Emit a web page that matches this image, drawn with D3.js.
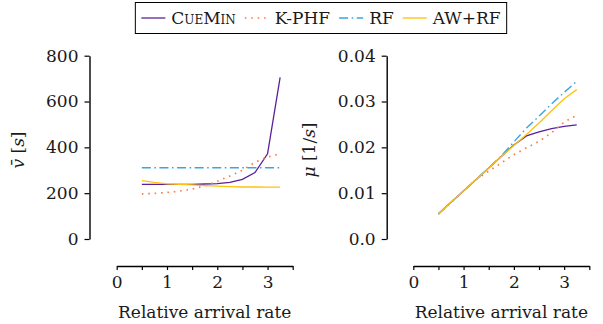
<!DOCTYPE html>
<html>
<head>
<meta charset="utf-8">
<script src="https://cdn.jsdelivr.net/npm/d3@7"></script>
<style>
  html, body { margin: 0; padding: 0; background: #fff; }
</style>
</head>
<body>
<div id="chart"></div>
<script>
// arrival rates (relative) shared by both panels
const rates = [0.5, 0.75, 1.0, 1.25, 1.5, 1.75, 2.0, 2.25, 2.5, 2.75, 3.0, 3.25];

// left panel: mean waiting time v-bar [s]
const waitCueMin = [238, 238, 238, 238, 238, 240, 242, 247, 260, 290, 372, 705];
const waitKPHF   = [197, 199, 203, 209, 218, 232, 252, 275, 300, 335, 358, 372];
const waitRF     = [311, 311, 311, 311, 311, 311, 311, 311, 311, 311, 311, 311];
const waitAWRF   = [255, 247, 241, 238, 236, 233, 231, 229, 227, 227, 226, 226];

// right panel: throughput mu [1/s]
const muCueMin = [0.0055, 0.0080, 0.0105, 0.0130, 0.0155, 0.0180, 0.0205, 0.0225, 0.0234, 0.0241, 0.0246, 0.0249];
const muKPHF   = [0.0055, 0.0080, 0.0105, 0.0130, 0.0148, 0.0166, 0.0184, 0.0199, 0.0213, 0.0232, 0.0255, 0.0270];
const muRF     = [0.0054, 0.0080, 0.0105, 0.0130, 0.0155, 0.0181, 0.0212, 0.0242, 0.0268, 0.0295, 0.0320, 0.0344];
const muAWRF   = [0.0055, 0.0080, 0.0105, 0.0130, 0.0155, 0.0180, 0.0204, 0.0228, 0.0253, 0.0280, 0.0306, 0.0326];

const seriesNames = ['CueMin', 'K-PHF', 'RF', 'AW+RF'];

// tick values / labels
const xTicks = [0, 0.5, 1, 1.5, 2, 2.5, 3, 3.5];
const waitTicks = [0, 200, 400, 600, 800];
const muTicks = [0, 0.01, 0.02, 0.03, 0.04];
const muTickLabels = ['0.0', '0.01', '0.02', '0.03', '0.04'];

// styling per series
const styles = {
  'CueMin': { color: '#5b1f9b', dash: null, width: 1.3 },
  'K-PHF':  { color: '#ff7a45', dash: '1.6,4.8', width: 1.7 },
  'RF':     { color: '#3aa6e0', dash: '9,3.5,1.6,3.5', width: 1.4 },
  'AW+RF':  { color: '#ffc20a', dash: null, width: 1.3 }
};

const FONT = '"DejaVu Serif", serif';
const fontSize = 17;

const W = 603, H = 324;
const svg = d3.select('#chart').append('svg')
  .attr('width', W).attr('height', H)
  .style('font-family', FONT);

function styleText(sel) {
  sel.attr('font-family', null)
    .style('font-family', FONT)
    .attr('font-size', null)
    .style('font-size', fontSize + 'px')
    .attr('fill', '#1a1a1a');
}

function drawPanel(cfg) {
  const x = d3.scaleLinear().domain([0, 3.5]).range([cfg.x0, cfg.x0 + 176]);
  const y = d3.scaleLinear().domain(cfg.yDomain).range([239, 55.7]);

  // y axis
  const yAxis = d3.axisLeft(y)
    .tickValues(cfg.yTicks)
    .tickFormat((d, i) => cfg.yLabels[i])
    .tickSizeInner(5).tickSizeOuter(0).tickPadding(6);
  const yg = svg.append('g')
    .attr('transform', `translate(${cfg.yAxisX},0)`)
    .call(yAxis)
    .attr('font-family', null).attr('font-size', null);
  yg.select('.domain').attr('stroke', '#000').attr('stroke-width', 1.4);
  yg.selectAll('.tick line').attr('stroke', '#000').attr('stroke-width', 1.2);
  styleText(yg.selectAll('.tick text'));

  // x axis, offset below the plot
  const xAxis = d3.axisBottom(x)
    .tickValues(xTicks)
    .tickFormat(d => Number.isInteger(d) && d < 3.5 ? d3.format('d')(d) : '')
    .tickSizeInner(4).tickSizeOuter(0).tickPadding(6);
  const xg = svg.append('g')
    .attr('transform', 'translate(0,266)')
    .call(xAxis)
    .attr('font-family', null).attr('font-size', null);
  xg.select('.domain').attr('stroke', '#000').attr('stroke-width', 1.4);
  xg.selectAll('.tick line').attr('stroke', '#000').attr('stroke-width', 1.2);
  styleText(xg.selectAll('.tick text'));

  const xl = svg.append('text')
    .attr('x', x(1.75)).attr('y', 318)
    .attr('text-anchor', 'middle')
    .text('Relative arrival rate');
  styleText(xl);

  // y label
  const yl = svg.append('text')
    .attr('transform', `translate(${cfg.labelX},150) rotate(-90)`)
    .attr('text-anchor', 'middle');
  styleText(yl);
  cfg.yTitle(yl);

  // lines
  const line = d3.line().x((d, i) => x(rates[i])).y(d => y(d));
  seriesNames.forEach((name, k) => {
    const st = styles[name];
    svg.append('path')
      .datum(cfg.series[k])
      .attr('fill', 'none')
      .attr('stroke', st.color)
      .attr('stroke-width', st.width)
      .attr('stroke-dasharray', st.dash)
      .attr('d', line);
  });
}

drawPanel({
  x0: 116.7, yAxisX: 89.5, labelX: 24,
  yDomain: [0, 800], yTicks: waitTicks, yLabels: waitTicks.map(String),
  series: [waitCueMin, waitKPHF, waitRF, waitAWRF],
  yTitle: t => {
    t.append('tspan').style('font-style', 'italic').text('v\u0304');
    t.append('tspan').text(' [');
    t.append('tspan').style('font-style', 'italic').text('s');
    t.append('tspan').text(']');
  }
});

drawPanel({
  x0: 413.3, yAxisX: 386.7, labelX: 315,
  yDomain: [0, 0.04], yTicks: muTicks, yLabels: muTickLabels,
  series: [muCueMin, muKPHF, muRF, muAWRF],
  yTitle: t => {
    t.append('tspan').style('font-style', 'italic').text('\u03bc');
    t.append('tspan').text(' [1/');
    t.append('tspan').style('font-style', 'italic').text('s');
    t.append('tspan').text(']');
  }
});

// legend on top, centered
const leg = svg.append('g');
let cx = 0;
seriesNames.forEach(name => {
  const st = styles[name];
  const g = leg.append('g').attr('transform', `translate(${cx},0)`);
  g.append('line')
    .attr('x1', 0).attr('x2', 24).attr('y1', 0).attr('y2', 0)
    .attr('stroke', st.color).attr('stroke-width', st.width)
    .attr('stroke-dasharray', st.dash);
  const txt = g.append('text')
    .attr('x', 30).attr('y', 6)
    .style('font-variant', name === 'CueMin' ? 'small-caps' : null)
    .text(name);
  styleText(txt);
  const w = txt.node().getComputedTextLength();
  cx += 30 + w + 9;
});
const legW = cx - 9 + 6;
const legX = 321 - legW / 2;
leg.attr('transform', `translate(${legX + 3},18)`);
svg.insert('rect', 'g')
  .attr('x', legX - 3).attr('y', 2.5)
  .attr('width', legW + 6).attr('height', 31)
  .attr('fill', '#fff').attr('stroke', '#000').attr('stroke-width', 1);
</script>
</body>
</html>
